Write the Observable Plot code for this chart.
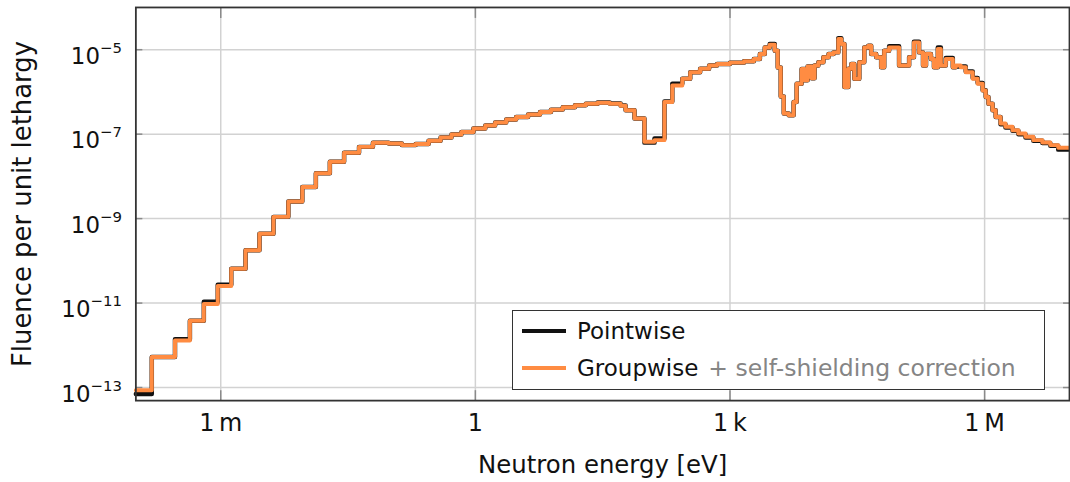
<!DOCTYPE html>
<html><head><meta charset="utf-8">
<script src="https://cdn.jsdelivr.net/npm/d3@7"></script>
<script src="https://cdn.jsdelivr.net/npm/@observablehq/plot@0.6"></script>
<style>
html,body{margin:0;padding:0;overflow:hidden;background:#fff;}
#wrap{position:relative;width:1070px;height:482px;overflow:hidden;font-family:"DejaVu Sans",sans-serif;color:#111;}
#legend{position:absolute;left:512px;top:310px;width:533px;height:80px;border:1.5px solid #333;background:#fff;box-sizing:border-box;font-size:23px;}
#legend .row{position:absolute;left:0;right:0;height:30px;display:flex;align-items:center;white-space:nowrap;}
#legend .sw{display:inline-block;width:44px;height:4px;margin-left:9px;margin-right:11px;}
#legend .gray{color:#858585;margin-left:10px;font-size:23.5px;}
</style></head>
<body><div id="wrap"></div>
<script>
// Group boundaries (eV)
const energyEdges = [
1.0e-4, 1.54e-4, 2.89e-4, 4.33e-4, 6.32e-4, 9.22e-4, 1.33e-3, 1.96e-3, 2.86e-3, 4.18e-3,
6.26e-3, 9.14e-3, 1.32e-2, 1.93e-2, 2.84e-2, 4.26e-2, 6.21e-2, 9.55e-2, 0.136, 0.198,
0.281, 0.389, 0.523, 0.685, 0.948, 1.31, 1.71, 2.31, 3.02, 4.18,
5.78, 7.78, 10.7, 14.9, 20.0, 27.6, 38.2, 51.4, 58.9, 75.0,
98.2, 129, 169, 209, 274, 340, 445, 568, 704, 1000,
1460, 1910, 2250, 2570, 2940, 3370, 3650, 3960, 4300, 4920,
5620, 6100, 6980, 7570, 8210, 9140, 9910, 1.10e4, 1.26e4, 1.45e4,
1.66e4, 1.89e4, 2.05e4, 2.23e4, 2.48e4, 2.69e4, 2.92e4, 3.34e4, 3.82e4, 4.26e4,
4.61e4, 5.28e4, 6.04e4, 6.56e4, 7.50e4, 9.82e4, 1.29e5, 1.47e5, 1.69e5, 1.88e5,
2.04e5, 2.33e5, 2.53e5, 2.81e5, 3.05e5, 3.49e5, 4.22e5, 4.57e5, 5.23e5, 5.99e5,
7.24e5, 8.28e5, 9.48e5, 1.03e6, 1.11e6, 1.24e6, 1.35e6, 1.54e6, 1.76e6, 2.13e6,
2.50e6, 3.03e6, 3.75e6, 4.79e6, 5.94e6, 7.37e6, 1.0e7
];
// Groupwise + self-shielding correction, per group
const groupwise = [
8.6e-14, 5.3e-13, 1.3e-12, 3.8e-12, 9.5e-12, 2.55e-11, 6.5e-11, 1.79e-10, 4.4e-10, 1.1e-9,
2.55e-9, 5.6e-9, 1.19e-8, 2.23e-8, 3.63e-8, 5.0e-8, 6.24e-8, 6.04e-8, 5.5e-8, 5.82e-8,
6.96e-8, 8.36e-8, 9.84e-8, 1.13e-7, 1.36e-7, 1.6e-7, 1.88e-7, 2.22e-7, 2.55e-7, 2.91e-7,
3.35e-7, 3.81e-7, 4.32e-7, 4.81e-7, 5.28e-7, 5.57e-7, 5.28e-7, 4.7e-7, 3.7e-7, 2.34e-7,
6.59e-8, 7.22e-8, 5.75e-7, 1.42e-6, 2.05e-6, 2.92e-6, 3.52e-6, 4.2e-6, 4.61e-6, 4.94e-6,
5.3e-6, 6.04e-6, 7.92e-6, 1.13e-5, 1.31e-5, 9.47e-6, 3.77e-6, 7.83e-7, 3.07e-7, 2.8e-7,
5.75e-7, 1.56e-6, 3.5e-6, 1.9e-6, 4.0e-6, 2.1e-6, 4.2e-6, 5.02e-6, 6.59e-6, 7.92e-6,
8.64e-6, 1.79e-5, 1.36e-5, 1.3e-6, 3.52e-6, 4.61e-6, 2.05e-6, 5.02e-6, 1.13e-5, 1.24e-5,
7.92e-6, 6.59e-6, 3.83e-6, 9.47e-6, 1.13e-5, 4.2e-6, 6.59e-6, 1.49e-5, 8.64e-6, 4.2e-6,
7.92e-6, 6.04e-6, 3.83e-6, 1.04e-5, 4.2e-6, 6.04e-6, 3.83e-6, 4.2e-6, 3.83e-6, 2.92e-6,
2.05e-6, 1.56e-6, 1.08e-6, 7.55e-7, 5.28e-7, 3.67e-7, 2.55e-7, 1.79e-7, 1.49e-7, 1.24e-7,
1.04e-7, 8.63e-8, 7.22e-8, 6.38e-8, 5.5e-8, 4.76e-8
];
// Pointwise reference, per group
const pointwise = [
7.0e-14, 5.3e-13, 1.4e-12, 3.8e-12, 1.07e-11, 2.7e-11, 6.5e-11, 1.79e-10, 4.4e-10, 1.1e-9,
2.55e-9, 5.6e-9, 1.19e-8, 2.23e-8, 3.63e-8, 5.0e-8, 6.24e-8, 6.04e-8, 5.5e-8, 5.82e-8,
6.96e-8, 8.36e-8, 9.84e-8, 1.13e-7, 1.36e-7, 1.6e-7, 1.88e-7, 2.22e-7, 2.55e-7, 2.91e-7,
3.35e-7, 3.81e-7, 4.32e-7, 4.81e-7, 5.28e-7, 5.6e-7, 5.35e-7, 4.75e-7, 3.7e-7, 2.34e-7,
6.3e-8, 7.9e-8, 5.95e-7, 1.56e-6, 2.05e-6, 2.92e-6, 3.52e-6, 4.2e-6, 4.61e-6, 4.94e-6,
5.3e-6, 6.04e-6, 7.92e-6, 1.13e-5, 1.36e-5, 9.47e-6, 3.77e-6, 7.83e-7, 3.07e-7, 2.8e-7,
5.75e-7, 1.56e-6, 3.5e-6, 1.9e-6, 4.0e-6, 2.1e-6, 4.2e-6, 5.02e-6, 6.59e-6, 7.92e-6,
8.64e-6, 1.88e-5, 1.36e-5, 1.3e-6, 3.52e-6, 4.61e-6, 2.05e-6, 5.02e-6, 1.13e-5, 1.24e-5,
7.92e-6, 6.59e-6, 3.83e-6, 9.47e-6, 1.2e-5, 4.2e-6, 6.59e-6, 1.55e-5, 8.64e-6, 4.2e-6,
7.92e-6, 6.04e-6, 3.83e-6, 1.13e-5, 4.2e-6, 6.4e-6, 3.83e-6, 4.0e-6, 4.0e-6, 3.05e-6,
2.15e-6, 1.62e-6, 1.1e-6, 7.55e-7, 5.28e-7, 3.67e-7, 2.55e-7, 1.72e-7, 1.44e-7, 1.2e-7,
1.0e-7, 8.3e-8, 6.95e-8, 6.15e-8, 5.3e-8, 4.3e-8
];
const seriesNames = ["Pointwise", "Groupwise"];
const seriesNote = "+ self-shielding correction";
const seriesColors = ["#111111", "#ff8c42"];
const xTicks = [1e-3, 1, 1e3, 1e6];
const xTickLabels = ["1\u2009m", "1", "1\u2009k", "1\u2009M"];
const yTicks = [1e-13, 1e-11, 1e-9, 1e-7, 1e-5];
const yTickExponents = ["\u221213", "\u221211", "\u22129", "\u22127", "\u22125"];
const xLabel = "Neutron energy [eV]";
const yLabel = "Fluence per unit lethargy";

function stepTable(vals) {
  const rows = vals.map((v, i) => ({E: energyEdges[i], v}));
  rows.push({E: energyEdges[energyEdges.length - 1], v: vals[vals.length - 1]});
  return rows;
}
const xLab = new Map(xTicks.map((t, i) => [t, xTickLabels[i]]));
const yLab = new Map(yTicks.map((t, i) => [t, "10^" + yTickExponents[i]]));

const svg = Plot.plot({
  width: 1075, height: 482,
  marginLeft: 136, marginRight: 1, marginTop: 7, marginBottom: 80,
  style: {fontFamily: "DejaVu Sans, sans-serif", background: "white", color: "#111"},
  x: {type: "log", domain: [1e-4, 1e7]},
  y: {type: "log", domain: [4.9e-14, 1e-4]},
  marks: [
    Plot.gridX(xTicks, {stroke: "#d2d2d2", strokeOpacity: 1, strokeWidth: 1.5}),
    Plot.gridY(yTicks, {stroke: "#d2d2d2", strokeOpacity: 1, strokeWidth: 1.5}),
    Plot.axisX(xTicks, {anchor: "bottom", tickSize: -10, stroke: "#8a8a8a", strokeWidth: 1.5, tickFormat: () => "", label: null}),
    Plot.axisX(xTicks, {anchor: "top", tickSize: -10, stroke: "#8a8a8a", strokeWidth: 1.5, tickFormat: () => "", label: null}),
    Plot.axisY(yTicks, {anchor: "left", tickSize: -7, stroke: "#8a8a8a", strokeWidth: 1.5, tickFormat: () => "", label: null}),
    Plot.axisY(yTicks, {anchor: "right", tickSize: -7, stroke: "#8a8a8a", strokeWidth: 1.5, tickFormat: () => "", label: null}),
    Plot.axisX(xTicks, {anchor: "bottom", tickSize: 0, tickPadding: 13, fontSize: 24,
      tickFormat: d => xLab.get(d), label: xLabel, labelAnchor: "center", labelOffset: 73, labelArrow: false}),
    Plot.axisY(yTicks, {anchor: "left", tickSize: 0, tickPadding: 14, fontSize: 23, dy: 7,
      tickFormat: d => yLab.get(d), label: yLabel, labelAnchor: "center", labelOffset: 124, labelArrow: false}),
    Plot.line(stepTable(pointwise), {x: "E", y: "v", curve: "step-after", stroke: seriesColors[0], strokeWidth: 4.5}),
    Plot.line(stepTable(groupwise), {x: "E", y: "v", curve: "step-after", stroke: seriesColors[1], strokeWidth: 4}),
    Plot.frame({stroke: "#333", strokeWidth: 1.8})
  ]
});

const NS = "http://www.w3.org/2000/svg";
svg.querySelectorAll('g[aria-label="y-axis tick label"] text').forEach(t => {
  const s = t.textContent;
  if (!s.includes("^")) return;
  const [base, ex] = s.split("^");
  t.textContent = "";
  const a = document.createElementNS(NS, "tspan"); a.textContent = base; t.appendChild(a);
  const b = document.createElementNS(NS, "tspan"); b.textContent = ex;
  b.setAttribute("font-size", "15"); b.setAttribute("dy", "-0.75em"); t.appendChild(b);
});
svg.querySelectorAll('g[aria-label="y-axis label"] text').forEach(t => t.setAttribute("font-size", "26"));
svg.querySelectorAll('g[aria-label="x-axis label"] text').forEach(t => t.setAttribute("font-size", "24.5"));

const wrap = document.getElementById("wrap");
wrap.appendChild(svg);

const legend = document.createElement("div");
legend.id = "legend";
seriesNames.forEach((name, i) => {
  const row = document.createElement("div");
  row.className = "row";
  row.style.top = (i === 0 ? 5 : 42) + "px";
  const sw = document.createElement("span"); sw.className = "sw"; sw.style.background = seriesColors[i];
  row.appendChild(sw);
  const tx = document.createElement("span"); tx.textContent = name; row.appendChild(tx);
  if (i === 1) {
    const g = document.createElement("span"); g.className = "gray"; g.textContent = seriesNote;
    row.appendChild(g);
  }
  legend.appendChild(row);
});
wrap.appendChild(legend);
</script>
</body></html>
